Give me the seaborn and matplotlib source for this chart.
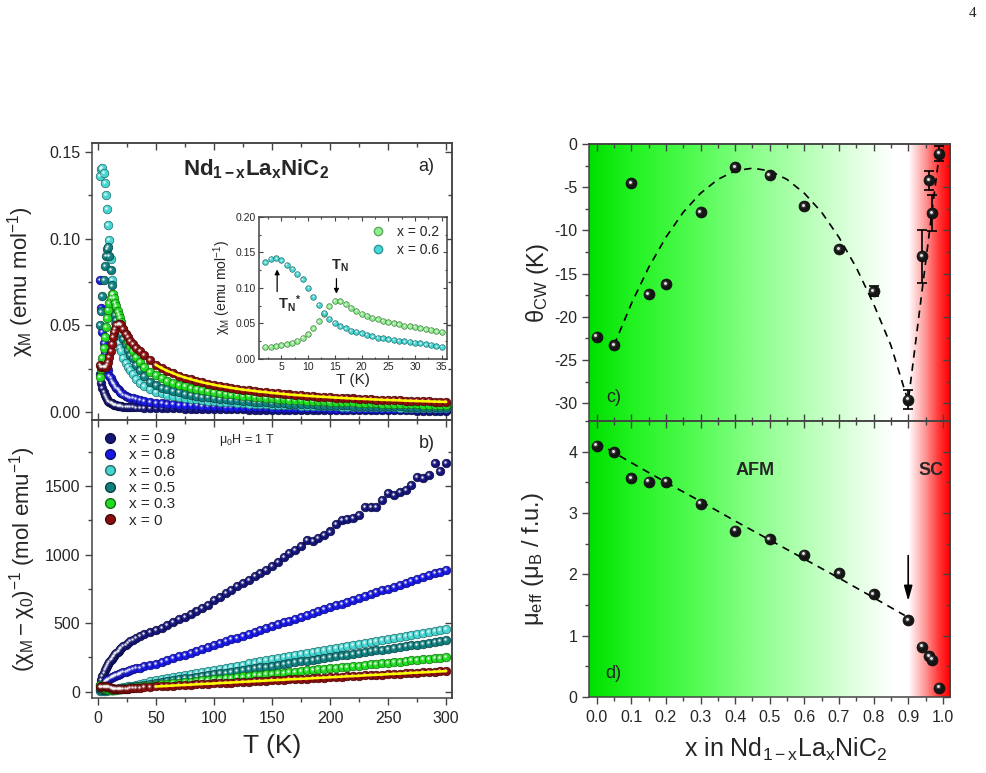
import numpy as np
import matplotlib
matplotlib.use('Agg')
import matplotlib.pyplot as plt
import matplotlib.transforms as mtransforms
from matplotlib.colors import LinearSegmentedColormap, to_rgb
from matplotlib.lines import Line2D
from matplotlib.ticker import MultipleLocator, FormatStrFormatter
import seaborn as sns

# ---------------- data ----------------
# temperature grids (K)
T_LOW = [2, 3, 4, 5, 6, 7, 8, 9, 10, 11, 12, 13, 14, 15, 16, 17, 18, 19, 20,
         22, 24, 26, 28, 30, 33, 36, 40, 45]
T_HI = [50, 55, 60, 65, 70, 75, 80, 85, 90, 95,
        100, 105, 110, 115, 120, 125, 130, 135, 140, 145,
        150, 155, 160, 165, 170, 175, 180, 185, 190, 195,
        200, 205, 210, 215, 220, 225, 230, 235, 240, 245,
        250, 255, 260, 265, 270, 275, 280, 285, 290, 295,
        300]

# panel a: chi_M (emu/mol)
CHI_09_LOW = [0.022, 0.017, 0.014, 0.0118, 0.0100, 0.0086, 0.0075, 0.0066, 0.0059, 0.0054,
              0.0050, 0.0046, 0.0043, 0.0041, 0.0039, 0.0037, 0.0035, 0.0034, 0.0033, 0.0031,
              0.0030, 0.0029, 0.0028, 0.0027, 0.0026, 0.0026, 0.0025, 0.0025]
CHI_08_LOW = [0.076, 0.060, 0.046, 0.040, 0.034, 0.030, 0.026, 0.024, 0.021, 0.0195,
              0.018, 0.017, 0.016, 0.015, 0.014, 0.0132, 0.0125, 0.0117, 0.0110, 0.0101,
              0.0094, 0.0088, 0.0083, 0.0079, 0.0073, 0.0068, 0.0063, 0.0058]
CHI_06_LOW = [0.136, 0.140, 0.141, 0.138, 0.132, 0.125, 0.117, 0.108, 0.099, 0.088,
              0.076, 0.066, 0.058, 0.052, 0.047, 0.043, 0.040, 0.037, 0.035, 0.031,
              0.028, 0.026, 0.024, 0.022, 0.019, 0.017, 0.0150, 0.0130]
CHI_05_LOW = [0.050, 0.058, 0.067, 0.076, 0.084, 0.090, 0.094, 0.095, 0.090, 0.082,
              0.073, 0.066, 0.060, 0.056, 0.053, 0.050, 0.048, 0.046, 0.045, 0.042,
              0.039, 0.036, 0.033, 0.031, 0.027, 0.024, 0.0205, 0.0175]
CHI_03_LOW = [0.020, 0.025, 0.031, 0.037, 0.043, 0.049, 0.054, 0.059, 0.063, 0.066,
              0.068, 0.068, 0.066, 0.063, 0.061, 0.058, 0.056, 0.054, 0.052, 0.048,
              0.045, 0.041, 0.038, 0.035, 0.032, 0.029, 0.026, 0.023]
CHI_00_LOW = [0.027, 0.026, 0.026, 0.026, 0.026, 0.026, 0.027, 0.029, 0.032, 0.035,
              0.039, 0.043, 0.046, 0.048, 0.050, 0.050, 0.051, 0.051, 0.050, 0.048,
              0.045, 0.043, 0.041, 0.039, 0.037, 0.035, 0.033, 0.030]

CHI_09_HI = [0.0024, 0.0023, 0.0023, 0.0022, 0.0021, 0.0020, 0.0020, 0.0019, 0.0018, 0.0018,
             0.0017, 0.0017, 0.0016, 0.0015, 0.0015, 0.0015, 0.0014, 0.0014, 0.0014, 0.0013,
             0.0013, 0.0013, 0.0012, 0.0012, 0.0012, 0.0011, 0.0011, 0.0011, 0.0011, 0.0011,
             0.0011, 0.0010, 0.0010, 0.0010, 0.0010, 0.0010, 0.0009, 0.0009, 0.0009, 0.0009,
             0.0009, 0.0009, 0.0009, 0.0009, 0.0009, 0.0008, 0.0008, 0.0008, 0.0008, 0.0008,
             0.0008]
CHI_08_HI = [0.0054, 0.0050, 0.0048, 0.0045, 0.0043, 0.0041, 0.0039, 0.0038, 0.0036, 0.0035,
             0.0033, 0.0032, 0.0031, 0.0030, 0.0029, 0.0029, 0.0028, 0.0027, 0.0026, 0.0026,
             0.0025, 0.0024, 0.0024, 0.0023, 0.0023, 0.0022, 0.0022, 0.0021, 0.0021, 0.0021,
             0.0020, 0.0020, 0.0020, 0.0019, 0.0019, 0.0019, 0.0018, 0.0018, 0.0018, 0.0018,
             0.0017, 0.0017, 0.0017, 0.0017, 0.0016, 0.0016, 0.0016, 0.0016, 0.0016, 0.0015,
             0.0015]
CHI_06_HI = [0.0117, 0.0107, 0.0099, 0.0093, 0.0087, 0.0081, 0.0077, 0.0073, 0.0069, 0.0065,
             0.0062, 0.0060, 0.0057, 0.0055, 0.0053, 0.0051, 0.0049, 0.0047, 0.0045, 0.0044,
             0.0043, 0.0041, 0.0040, 0.0039, 0.0038, 0.0037, 0.0036, 0.0035, 0.0034, 0.0033,
             0.0032, 0.0032, 0.0031, 0.0030, 0.0029, 0.0029, 0.0028, 0.0028, 0.0027, 0.0027,
             0.0026, 0.0026, 0.0025, 0.0025, 0.0024, 0.0024, 0.0023, 0.0023, 0.0023, 0.0022,
             0.0022]
CHI_05_HI = [0.0155, 0.0141, 0.0130, 0.0121, 0.0113, 0.0106, 0.0099, 0.0094, 0.0089, 0.0084,
             0.0080, 0.0076, 0.0073, 0.0070, 0.0067, 0.0065, 0.0062, 0.0060, 0.0058, 0.0056,
             0.0054, 0.0052, 0.0051, 0.0049, 0.0048, 0.0046, 0.0045, 0.0044, 0.0043, 0.0042,
             0.0041, 0.0040, 0.0039, 0.0038, 0.0037, 0.0036, 0.0036, 0.0035, 0.0034, 0.0033,
             0.0033, 0.0032, 0.0032, 0.0031, 0.0030, 0.0030, 0.0029, 0.0029, 0.0028, 0.0028,
             0.0027]
CHI_03_HI = [0.0211, 0.0195, 0.0181, 0.0169, 0.0158, 0.0149, 0.0140, 0.0133, 0.0126, 0.0120,
             0.0115, 0.0110, 0.0105, 0.0101, 0.0097, 0.0093, 0.0090, 0.0087, 0.0084, 0.0081,
             0.0079, 0.0076, 0.0074, 0.0072, 0.0070, 0.0068, 0.0066, 0.0065, 0.0063, 0.0061,
             0.0060, 0.0059, 0.0057, 0.0056, 0.0055, 0.0054, 0.0052, 0.0051, 0.0050, 0.0049,
             0.0048, 0.0048, 0.0047, 0.0046, 0.0045, 0.0044, 0.0043, 0.0043, 0.0042, 0.0041,
             0.0041]
CHI_00_HI = [0.0272, 0.0253, 0.0237, 0.0223, 0.0210, 0.0199, 0.0189, 0.0180, 0.0171, 0.0164,
             0.0157, 0.0150, 0.0145, 0.0139, 0.0134, 0.0129, 0.0125, 0.0121, 0.0117, 0.0114,
             0.0110, 0.0107, 0.0104, 0.0101, 0.0098, 0.0096, 0.0093, 0.0091, 0.0089, 0.0087,
             0.0085, 0.0083, 0.0081, 0.0079, 0.0078, 0.0076, 0.0075, 0.0073, 0.0072, 0.0070,
             0.0069, 0.0068, 0.0067, 0.0065, 0.0064, 0.0063, 0.0062, 0.0061, 0.0060, 0.0059,
             0.0058]

# panel b: (chi_M - chi_0)^-1 (mol/emu)
INV_09_LOW = [50, 85, 112, 135, 155, 172, 188, 203, 217, 230, 242, 253, 263, 273, 283, 292,
              300, 308, 316, 330, 343, 356, 367, 378, 392, 405, 420, 437]
INV_08_LOW = [15, 30, 45, 58, 68, 76, 83, 89, 95, 100, 105, 109, 113, 117, 121, 125,
              128, 132, 135, 141, 147, 153, 158, 163, 170, 176, 184, 193]
INV_06_LOW = [7, 7, 7, 7, 8, 8, 9, 9, 10, 11, 13, 15, 17, 19, 21, 23,
              25, 27, 29, 32, 35, 38, 42, 45, 51, 57, 64, 75]
INV_05_LOW = [20, 17, 15, 13, 12, 11, 11, 11, 11, 12, 14, 15, 17, 18, 19, 20,
              21, 22, 23, 25, 28, 30, 32, 34, 38, 42, 50, 58]
INV_03_LOW = [50, 40, 33, 28, 24, 21, 19, 17, 16, 15, 15, 15, 15, 16, 16, 17,
              18, 19, 20, 21, 23, 25, 27, 29, 32, 35, 40, 45]
INV_00_LOW = [37, 38, 38, 38, 38, 38, 37, 34, 31, 28, 26, 23, 22, 21, 20, 20,
              20, 20, 20, 21, 22, 23, 25, 26, 28, 30, 32, 35]

INV_09_HI = [450, 468, 488, 508, 528, 548, 568, 590, 612, 632,
             668, 690, 722, 745, 768, 795, 812, 845, 868, 890,
             918, 948, 985, 1010, 1030, 1062, 1105, 1100, 1118, 1145,
             1168, 1222, 1250, 1262, 1266, 1290, 1345, 1345, 1350, 1398,
             1450, 1435, 1458, 1470, 1508, 1566, 1556, 1580, 1668, 1612,
             1666]
INV_08_HI = [202, 216, 230, 243, 257, 271, 285, 298, 312, 326,
             340, 353, 367, 381, 395, 408, 422, 436, 450, 463,
             477, 491, 505, 518, 532, 546, 560, 574, 587, 601,
             615, 629, 642, 656, 670, 684, 697, 711, 725, 739,
             752, 766, 780, 794, 807, 821, 835, 849, 862, 876,
             890]
INV_06_HI = [86, 93, 101, 108, 116, 123, 131, 138, 146, 153,
             161, 168, 176, 183, 191, 198, 206, 213, 221, 228,
             236, 243, 251, 258, 266, 273, 280, 288, 295, 303,
             310, 318, 325, 333, 340, 348, 355, 363, 370, 378,
             385, 393, 400, 408, 415, 423, 430, 438, 445, 452,
             460]
INV_05_HI = [66, 72, 78, 85, 91, 97, 103, 109, 115, 122,
             128, 134, 140, 146, 153, 159, 165, 171, 177, 183,
             190, 196, 202, 208, 214, 221, 227, 233, 239, 245,
             251, 258, 264, 270, 276, 282, 288, 295, 301, 307,
             313, 319, 326, 332, 338, 344, 350, 356, 363, 369,
             375]
INV_03_HI = [50, 54, 58, 62, 66, 70, 74, 78, 82, 86,
             90, 94, 98, 103, 107, 111, 115, 119, 123, 127,
             131, 135, 139, 143, 147, 151, 155, 159, 163, 167,
             171, 175, 179, 183, 187, 191, 195, 199, 204, 208,
             212, 216, 220, 224, 228, 232, 236, 240, 244, 248,
             252]
INV_00_HI = [38, 40, 42, 45, 47, 49, 51, 54, 56, 58,
             60, 63, 65, 67, 69, 72, 74, 76, 78, 81,
             83, 85, 87, 90, 92, 94, 96, 98, 101, 103,
             105, 107, 110, 112, 114, 116, 119, 121, 123, 125,
             128, 130, 132, 134, 137, 139, 141, 143, 146, 148,
             150]

# inset: chi_M at low temperature
T_INSET = [2, 3, 4, 5, 6, 7, 8, 9, 10, 11, 12, 13, 14, 15, 16, 17, 18,
           19, 20, 21, 22, 23, 24, 25, 26, 27, 28, 29, 30, 31, 32, 33, 34, 35]
CHI_INSET_02 = [0.017, 0.017, 0.018, 0.019, 0.021, 0.023, 0.026, 0.030, 0.035, 0.043,
                0.053, 0.064, 0.074, 0.082, 0.081, 0.077, 0.072, 0.068, 0.064, 0.061,
                0.058, 0.056, 0.054, 0.052, 0.050, 0.049, 0.047, 0.046, 0.045, 0.043,
                0.042, 0.041, 0.039, 0.038]
CHI_INSET_06 = [0.136, 0.141, 0.142, 0.139, 0.133, 0.127, 0.120, 0.112, 0.100, 0.088,
                0.076, 0.065, 0.057, 0.051, 0.046, 0.043, 0.040, 0.038, 0.036, 0.034,
                0.032, 0.030, 0.029, 0.028, 0.027, 0.026, 0.025, 0.024, 0.023, 0.022,
                0.021, 0.020, 0.018, 0.017]

# panels c, d: vs La content
X_LA = [0.0, 0.05, 0.1, 0.15, 0.2, 0.3, 0.4, 0.5, 0.6, 0.7, 0.8, 0.9, 0.94, 0.96, 0.97, 0.99]
THETA_CW = [-22.3, -23.3, -4.5, -17.4, -16.2, -7.9, -2.7, -3.6, -7.2, -12.2, -17.0, -29.6,
            -13.0, -4.2, -8.0, -1.1]
THETA_ERR = [0, 0, 0, 0, 0, 0, 0, 0, 0, 0, 0.6, 1.1, 3.1, 1.1, 2.1, 0.9]
MU_EFF = [4.10, 3.99, 3.57, 3.51, 3.51, 3.15, 2.71, 2.57, 2.32, 2.02, 1.68, 1.25,
          0.82, 0.67, 0.61, 0.15]
GUIDE_C_X = [0.05, 0.1, 0.15, 0.2, 0.25, 0.3, 0.35, 0.4, 0.45, 0.5, 0.55, 0.6, 0.65,
             0.7, 0.75, 0.8, 0.85, 0.9, 0.92, 0.94, 0.96, 0.99]
GUIDE_C_Y = [-23.3, -18.5, -14.3, -10.8, -7.9, -5.7, -4.1, -3.1, -2.8, -3.1, -4.1, -5.7,
             -7.9, -10.8, -14.3, -18.5, -23.3, -29.8, -23.4, -17.0, -10.6, -1.1]
GUIDE_D_X = [0.0, 0.1, 0.2, 0.3, 0.4, 0.5, 0.6, 0.7, 0.8, 0.89]
GUIDE_D_Y = [4.15, 3.82, 3.50, 3.19, 2.87, 2.56, 2.25, 1.94, 1.62, 1.33]

LABELS = ['x = 0.9', 'x = 0.8', 'x = 0.6', 'x = 0.5', 'x = 0.3', 'x = 0']
COLORS = ['#14147a', '#1818e6', '#46d6d2', '#0f8080', '#22dc22', '#8a0c0c']

# ---------------- style ----------------
sns.set_style('ticks')
plt.rcParams['font.family'] = ['Liberation Sans', 'DejaVu Sans']
plt.rcParams['mathtext.fontset'] = 'custom'
plt.rcParams['mathtext.rm'] = 'Liberation Sans'
plt.rcParams['mathtext.it'] = 'Liberation Sans:italic'
plt.rcParams['mathtext.bf'] = 'Liberation Sans:bold'
plt.rcParams['mathtext.default'] = 'regular'
plt.rcParams['axes.unicode_minus'] = False
plt.rcParams['axes.edgecolor'] = '#444444'
plt.rcParams['axes.linewidth'] = 1.1

fig = plt.figure(figsize=(9.87, 7.73), dpi=100)
ax_a = fig.add_axes([0.0932, 0.4567, 0.3647, 0.3583])
ax_b = fig.add_axes([0.0932, 0.0970, 0.3647, 0.3597])
ax_c = fig.add_axes([0.5968, 0.4554, 0.3658, 0.3583])
ax_d = fig.add_axes([0.5968, 0.0983, 0.3658, 0.3571])
ax_in = fig.add_axes([0.2624, 0.5356, 0.1905, 0.1837])


def balls(ax, x, y, color, s, z=3, off=0.7):
    dark = tuple(np.array(to_rgb(color)) * 0.5)
    sns.scatterplot(x=x, y=y, ax=ax, color=color, s=s, edgecolor=dark,
                    linewidth=0.5, zorder=z)
    shift = ax.transData + mtransforms.ScaledTranslation(-off / 72, off / 72,
                                                         fig.dpi_scale_trans)
    ax.scatter(x, y, s=s * 0.28, color='white', alpha=0.15, linewidths=0,
               transform=shift, zorder=z)
    ax.scatter(x, y, s=s * 0.07, color='white', alpha=0.9, linewidths=0,
               transform=shift, zorder=z)


def frame(ax, xmaj, xmin, ymaj, ymin, bottom_dir, fs=11.5):
    ax.xaxis.set_major_locator(MultipleLocator(xmaj))
    ax.xaxis.set_minor_locator(MultipleLocator(xmin))
    ax.yaxis.set_major_locator(MultipleLocator(ymaj))
    ax.yaxis.set_minor_locator(MultipleLocator(ymin))
    ax.tick_params(axis='x', which='both', direction=bottom_dir, top=False, labelsize=fs, pad=4)
    ax.tick_params(axis='y', which='both', direction='out', right=False, labelsize=fs)
    ax.tick_params(which='major', length=5, width=1, color='#444444')
    ax.tick_params(which='minor', length=3, width=1, color='#444444')
    top = ax.secondary_xaxis('top')
    top.xaxis.set_major_locator(MultipleLocator(xmaj))
    top.xaxis.set_minor_locator(MultipleLocator(xmin))
    top.tick_params(which='both', direction='in', labeltop=False, width=1, color='#444444')
    top.tick_params(which='major', length=5)
    top.tick_params(which='minor', length=3)
    right = ax.secondary_yaxis('right')
    right.yaxis.set_major_locator(MultipleLocator(ymaj))
    right.yaxis.set_minor_locator(MultipleLocator(ymin))
    right.tick_params(which='both', direction='in', labelright=False, width=1, color='#444444')
    right.tick_params(which='major', length=5)
    right.tick_params(which='minor', length=3)


# ---------------- panel a ----------------
chi_low = [CHI_09_LOW, CHI_08_LOW, CHI_06_LOW, CHI_05_LOW, CHI_03_LOW, CHI_00_LOW]
chi_hi = [CHI_09_HI, CHI_08_HI, CHI_06_HI, CHI_05_HI, CHI_03_HI, CHI_00_HI]
for lo, hi, c in zip(chi_low, chi_hi, COLORS):
    balls(ax_a, T_LOW + T_HI, lo + hi, c, 38)
sns.lineplot(x=T_HI, y=CHI_00_HI, ax=ax_a, color='#ffff00', lw=1.8, sort=False,
             estimator=None, zorder=6)
ax_a.set_xlim(-5, 305)
ax_a.set_ylim(-0.0046, 0.1552)
frame(ax_a, 50, 25, 0.05, 0.025, 'in')
ax_a.tick_params(labelbottom=False)
ax_a.yaxis.set_major_formatter(FormatStrFormatter('%.2f'))
ax_a.set_ylabel(r'$\chi_{M}$ (emu mol$^{-1}$)', fontsize=16)
ax_a.yaxis.set_label_coords(-0.155, 0.5)
ax_a.set_xlabel('')
ax_a.text(136, 0.140, r'$\mathbf{Nd_{1-x}La_{x}NiC_{2}}$', fontsize=16,
          ha='center', va='center')
ax_a.text(283, 0.1415, 'a)', fontsize=13, ha='center', va='center')

# inset
balls(ax_in, T_INSET, CHI_INSET_02, '#8cf08c', 16, off=0.4)
balls(ax_in, T_INSET, CHI_INSET_06, '#46d9d6', 16, off=0.4)
ax_in.set_facecolor('white')
ax_in.set_xlim(0.8, 36)
ax_in.set_ylim(0, 0.2)
ax_in.xaxis.set_major_locator(MultipleLocator(5))
ax_in.xaxis.set_minor_locator(MultipleLocator(2.5))
ax_in.yaxis.set_major_locator(MultipleLocator(0.05))
ax_in.yaxis.set_minor_locator(MultipleLocator(0.025))
ax_in.yaxis.set_major_formatter(FormatStrFormatter('%.2f'))
ax_in.tick_params(which='both', direction='in', top=True, right=True, labelsize=7.5,
                  color='#444444', width=0.8, pad=2)
ax_in.tick_params(which='major', length=3)
ax_in.tick_params(which='minor', length=1.5)
ax_in.set_xlabel('T (K)', fontsize=11, labelpad=1)
ax_in.set_ylabel(r'$\chi_{M}$ (emu mol$^{-1}$)', fontsize=10, labelpad=2)
in_handles = [Line2D([], [], ls='', marker='o', markersize=6, color=c,
                     markeredgecolor=tuple(np.array(to_rgb(c)) * 0.7))
              for c in ['#8cf08c', '#46d9d6']]
ax_in.legend(in_handles, ['x = 0.2', 'x = 0.6'], loc='upper right', frameon=False,
             fontsize=10, handlelength=0.8, handletextpad=0.9, labelspacing=0.25,
             borderaxespad=0.2)
ax_in.annotate('', xy=(15.3, 0.088), xytext=(15.3, 0.117),
               arrowprops=dict(arrowstyle='-|>', color='k', lw=0.9, mutation_scale=7))
ax_in.text(16.0, 0.131, r'$\mathbf{T_{N}}$', fontsize=10.5, ha='center', va='center')
ax_in.annotate('', xy=(4.2, 0.130), xytext=(4.2, 0.091),
               arrowprops=dict(arrowstyle='-|>', color='k', lw=0.9, mutation_scale=7))
ax_in.text(6.5, 0.078, r'$\mathbf{T_{N}}^{\mathbf{*}}$', fontsize=10.5, ha='center', va='center')

# ---------------- panel b ----------------
inv_low = [INV_09_LOW, INV_08_LOW, INV_06_LOW, INV_05_LOW, INV_03_LOW, INV_00_LOW]
inv_hi = [INV_09_HI, INV_08_HI, INV_06_HI, INV_05_HI, INV_03_HI, INV_00_HI]
for lo, hi, c in zip(inv_low, inv_hi, COLORS):
    balls(ax_b, T_LOW + T_HI, lo + hi, c, 38)
sns.lineplot(x=T_HI, y=INV_00_HI, ax=ax_b, color='#ffff00', lw=1.8, sort=False,
             estimator=None, zorder=6)
ax_b.set_xlim(-5, 305)
ax_b.set_ylim(-46, 1981)
frame(ax_b, 50, 25, 500, 250, 'out')
ax_b.set_xlabel('T (K)', fontsize=19)
ax_b.xaxis.set_label_coords(0.5, -0.13)
ax_b.set_ylabel(r'$(\chi_{M}-\chi_{0})^{-1}$ (mol emu$^{-1}$)', fontsize=16)
ax_b.yaxis.set_label_coords(-0.15, 0.5)
handles = [Line2D([], [], ls='', marker='o', markersize=7, color=c,
                  markeredgecolor=tuple(np.array(to_rgb(c)) * 0.5)) for c in COLORS]
ax_b.legend(handles, LABELS, loc='upper left', frameon=False, fontsize=11,
            handlelength=0.8, handletextpad=0.8, labelspacing=0.15, borderaxespad=0.4)
ax_b.text(283, 1810, 'b)', fontsize=13, ha='center', va='center')
ax_b.text(128, 1835, r'$\mu_{0}$H = 1 T', fontsize=9, ha='center', va='center')

# ---------------- panels c, d ----------------
bg = LinearSegmentedColormap.from_list('phase', [
    (0.0, '#00e000'), (0.12, '#22f222'), (0.3, '#55fc55'), (0.45, '#88ff88'),
    (0.6, '#b6ffb6'), (0.72, '#dcffdc'), (0.8, '#f3fff3'), (0.84, '#ffffff'),
    (0.885, '#ffffff'), (0.93, '#ff9a9a'), (0.97, '#ff3535'), (1.0, '#ff0000')])
grad = np.linspace(0, 1, 600).reshape(1, -1)
for ax in (ax_c, ax_d):
    ax.imshow(grad, aspect='auto', cmap=bg, extent=(0, 1, 0, 1),
              transform=ax.transAxes, zorder=0)

sns.lineplot(x=GUIDE_C_X, y=GUIDE_C_Y, ax=ax_c, color='k', lw=1.2, sort=False,
             estimator=None, linestyle=(0, (4.5, 3.5)), zorder=2)
err = np.array(THETA_ERR)
m = err > 0
ax_c.errorbar(np.array(X_LA)[m], np.array(THETA_CW)[m], yerr=err[m], fmt='none',
              ecolor='k', elinewidth=1.2, capsize=3.5, capthick=1.2, zorder=3)
balls(ax_c, X_LA, THETA_CW, '#151515', 62, z=4, off=1.0)
ax_c.set_xlim(-0.022, 1.021)
ax_c.set_ylim(-32.05, 0)
frame(ax_c, 0.1, 0.05, 5, 2.5, 'in')
ax_c.tick_params(labelbottom=False)
ax_c.set_ylabel(r'$\theta_{CW}$ (K)', fontsize=17)
ax_c.yaxis.set_label_coords(-0.105, 0.5)
ax_c.set_xlabel('')
ax_c.text(0.048, -29.3, 'c)', fontsize=13, ha='center', va='center')

sns.lineplot(x=GUIDE_D_X, y=GUIDE_D_Y, ax=ax_d, color='k', lw=1.2, sort=False,
             estimator=None, linestyle=(0, (4.5, 3.5)), zorder=2)
balls(ax_d, X_LA, MU_EFF, '#151515', 62, z=4, off=1.0)
ax_d.annotate('', xy=(0.9, 1.52), xytext=(0.9, 2.35),
              arrowprops=dict(arrowstyle='-|>,head_length=0.9,head_width=0.25',
                              color='k', lw=1.2))
ax_d.set_xlim(-0.022, 1.021)
ax_d.set_ylim(0, 4.5)
frame(ax_d, 0.1, 0.05, 1, 0.5, 'out')
ax_d.xaxis.set_major_formatter(FormatStrFormatter('%.1f'))
ax_d.set_ylabel(r'$\mu_{eff}$ ($\mu_{B}$ / f.u.)', fontsize=17)
ax_d.yaxis.set_label_coords(-0.12, 0.5)
ax_d.set_xlabel(r'x in Nd$_{1-x}$La$_{x}$NiC$_{2}$', fontsize=18)
ax_d.xaxis.set_label_coords(0.545, -0.14)
ax_d.text(0.457, 3.70, 'AFM', fontsize=13, fontweight='bold', ha='center', va='center')
ax_d.text(0.965, 3.70, 'SC', fontsize=13, fontweight='bold', ha='center', va='center')
ax_d.text(0.048, 0.39, 'd)', fontsize=13, ha='center', va='center')

fig.text(0.989, 0.982, '4', fontsize=11, family='Liberation Serif', ha='right', va='center')

fig.savefig('out.png', dpi=100)
